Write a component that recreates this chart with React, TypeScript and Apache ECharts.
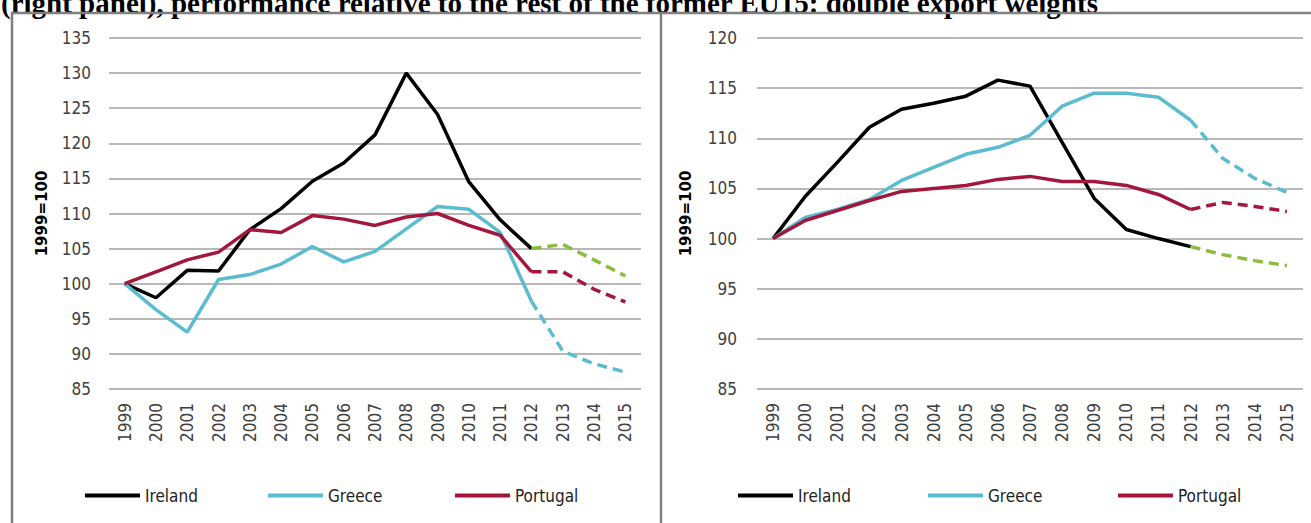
import React, { useEffect, useRef } from "react";
import * as echarts from "echarts";

const years = ["1999","2000","2001","2002","2003","2004","2005","2006","2007","2008","2009","2010","2011","2012","2013","2014","2015"];

const leftIreland = [100, 98.0, 101.9, 101.8, 107.7, 110.7, 114.6, 117.2, 121.2, 130.0, 124.1, 114.5, 109.1, 105.0];
const leftIrelandProj = [105.0, 105.6, 103.4, 101.1];
const leftGreece = [100, 96.3, 93.1, 100.6, 101.3, 102.8, 105.3, 103.1, 104.6, 107.8, 111.0, 110.6, 107.3, 97.5];
const leftGreeceProj = [97.5, 90.4, 88.6, 87.4];
const leftPortugal = [100, 101.7, 103.4, 104.5, 107.7, 107.3, 109.7, 109.2, 108.3, 109.5, 110.0, 108.3, 106.9, 101.7];
const leftPortugalProj = [101.7, 101.7, 99.2, 97.4];

const rightIreland = [100, 104.2, 107.6, 111.1, 112.9, 113.5, 114.2, 115.8, 115.2, 109.6, 104.0, 100.9, 100.0, 99.2];
const rightIrelandProj = [99.2, 98.4, 97.8, 97.3];
const rightGreece = [100, 102.1, 102.9, 103.9, 105.8, 107.1, 108.4, 109.1, 110.3, 113.2, 114.5, 114.5, 114.1, 111.8];
const rightGreeceProj = [111.8, 108.0, 106.0, 104.6];
const rightPortugal = [100, 101.8, 102.8, 103.8, 104.7, 105.0, 105.3, 105.9, 106.2, 105.7, 105.7, 105.3, 104.4, 102.9];
const rightPortugalProj = [102.9, 103.6, 103.2, 102.7];

const countries = ["Ireland", "Greece", "Portugal"];
const titleText = "(right panel), performance relative to the rest of the former EU15: double export weights";
const yName = "1999=100";

const C_IRL = "#000000";
const C_GRC = "#5bbcd0";
const C_PRT = "#a3173d";
const C_PROJ = "#8cbc3f";
const FONT = "'DejaVu Sans Condensed', 'DejaVu Sans', sans-serif";

function pad(arr: number[]) {
  const out: (number | null)[] = [];
  for (let i = 0; i < years.length - arr.length; i++) out.push(null);
  return out.concat(arr);
}

function solid(name: string, data: number[], color: string, idx: number) {
  return {
    type: "line", name, data, xAxisIndex: idx, yAxisIndex: idx,
    symbol: "none", color,
    lineStyle: { color, width: 3.5 },
  };
}
function dashed(name: string, data: number[], color: string, idx: number) {
  return {
    type: "line", name, data: pad(data), xAxisIndex: idx, yAxisIndex: idx,
    symbol: "none", color, connectNulls: false,
    lineStyle: { color, width: 3.5, type: [10, 6] },
  };
}

export default function App() {
  const ref = useRef<HTMLDivElement>(null);
  useEffect(() => {
    if (!ref.current) return;
    const chart = echarts.init(ref.current, null, { renderer: "svg" });
    const xAxisBase = (gi: number) => ({
      type: "category", gridIndex: gi, data: years, boundaryGap: true,
      axisLine: { show: false }, axisTick: { show: false },
      axisLabel: { rotate: 90, fontSize: 17, color: "#404040", fontFamily: FONT, margin: 14, interval: 0 },
    });
    const yAxisBase = (gi: number, max: number, margin: number, gap: number) => ({
      type: "value", gridIndex: gi, min: 85, max, interval: 5,
      axisLine: { show: false }, axisTick: { show: false },
      axisLabel: { fontSize: 17, color: "#404040", fontFamily: FONT, margin },
      splitLine: { lineStyle: { color: "#a0a0a0", width: 1.5 } },
      name: yName, nameLocation: "middle", nameRotate: 90, nameGap: gap,
      nameTextStyle: { fontSize: 15, fontWeight: "bold", color: "#000", fontFamily: "'DejaVu Sans', sans-serif" },
    });
    const legendItem = (name: string, left: number) => ({
      data: [name], left, top: 487, icon: "rect", itemWidth: 55, itemHeight: 4,
      textStyle: { fontSize: 17, color: "#222", fontFamily: FONT }, padding: 0,
    });
    chart.setOption({
      animation: false,
      grid: [
        { left: 109, right: 1311 - 641, top: 38, bottom: 523 - 389 },
        { left: 757, right: 8, top: 38, bottom: 523 - 389 },
      ],
      xAxis: [xAxisBase(0), xAxisBase(1)],
      yAxis: [yAxisBase(0, 135, 18, 60), yAxisBase(1, 120, 20, 64)],
      legend: [
        legendItem(countries[0], 85), legendItem(countries[1], 268), legendItem(countries[2], 455),
        legendItem(countries[0], 738), legendItem(countries[1], 928), legendItem(countries[2], 1118),
      ],
      graphic: [
        { type: "text", x: 1, y: 17, style: { text: titleText, font: "bold 29px 'Liberation Serif', serif", fill: "#000", verticalAlign: "bottom" } },
        { type: "rect", shape: { x: 0, y: 14, width: 1311, height: 12 }, style: { fill: "#fff" }, z: -1 },
        { type: "line", shape: { x1: 11, y1: 13, x2: 1311, y2: 13 }, style: { stroke: "#808080", lineWidth: 2.5 } },
        { type: "line", shape: { x1: 12, y1: 13, x2: 12, y2: 523 }, style: { stroke: "#808080", lineWidth: 2.5 } },
        { type: "line", shape: { x1: 661, y1: 13, x2: 661, y2: 523 }, style: { stroke: "#808080", lineWidth: 2.5 } },
      ],
      series: [
        solid(countries[0], leftIreland, C_IRL, 0),
        dashed("Ireland projection (left)", leftIrelandProj, C_PROJ, 0),
        solid(countries[1], leftGreece, C_GRC, 0),
        dashed("Greece projection (left)", leftGreeceProj, C_GRC, 0),
        solid(countries[2], leftPortugal, C_PRT, 0),
        dashed("Portugal projection (left)", leftPortugalProj, C_PRT, 0),
        solid(countries[0], rightIreland, C_IRL, 1),
        dashed("Ireland projection (right)", rightIrelandProj, C_PROJ, 1),
        solid(countries[1], rightGreece, C_GRC, 1),
        dashed("Greece projection (right)", rightGreeceProj, C_GRC, 1),
        solid(countries[2], rightPortugal, C_PRT, 1),
        dashed("Portugal projection (right)", rightPortugalProj, C_PRT, 1),
      ],
    });
    return () => chart.dispose();
  }, []);
  return (
    <div
      ref={ref}
      style={{ position: "fixed", left: 0, top: 0, width: 1311, height: 523, background: "#fff" }}
    />
  );
}
